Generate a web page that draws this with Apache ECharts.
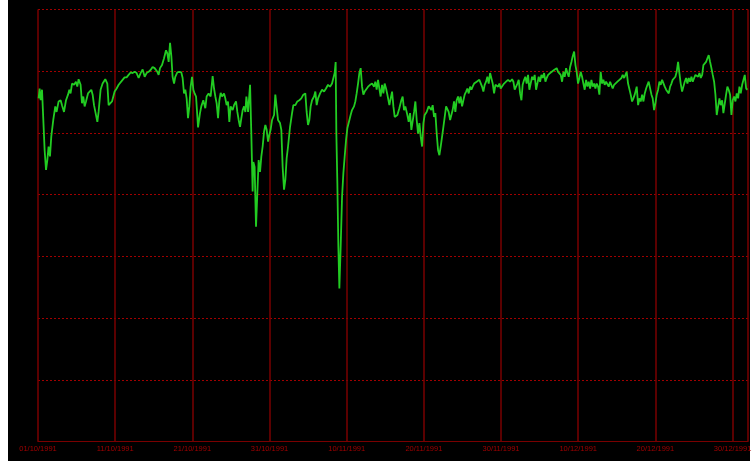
<!DOCTYPE html>
<html>
<head>
<meta charset="utf-8">
<script src="https://cdn.jsdelivr.net/npm/echarts@6/dist/echarts.min.js"></script>
<style>
  html, body { margin: 0; padding: 0; background: #fff; }
  #chart-bg {
    position: absolute;
    left: 8px;
    top: 0;
    width: 742px;
    height: 461px;
    background: #000;
  }
  #chart-line-day {
    position: absolute;
    left: 8px;
    top: 0;
    width: 745px;
    height: 461px;
  }
</style>
</head>
<body>
<div id="chart-bg"></div>
<div id="chart-line-day"></div>
<script>
// days since 01/10/1991
const days = [
  0.08, 0.21, 0.34, 0.52, 0.69, 0.86, 1.04, 1.21, 1.37, 1.55, 1.72, 1.98, 2.24, 2.41, 2.67, 2.93,
  3.11, 3.37, 3.63, 3.89, 4.06, 4.22, 4.41, 4.67, 4.92, 5.09, 5.26, 5.52, 5.70, 5.87, 6.04, 6.22,
  6.48, 6.65, 6.91, 7.08, 7.26, 7.43, 7.69, 7.85, 8.11, 8.37, 8.72, 8.98, 9.15, 9.33, 9.59, 9.76,
  9.93, 10.19, 10.45, 10.70, 10.96, 11.22, 11.48, 11.74, 12.00, 12.26, 12.52, 12.78, 13.04, 13.30,
  13.56, 13.82, 14.07, 14.33, 14.59, 14.85, 15.11, 15.46, 15.63, 15.81, 16.07, 16.33, 16.59, 16.76,
  16.93, 17.11, 17.28, 17.44, 17.63, 17.79, 18.05, 18.31, 18.57, 18.74, 18.92, 19.09, 19.26, 19.44,
  19.61, 19.78, 19.96, 20.13, 20.29, 20.48, 20.74, 20.99, 21.16, 21.42, 21.68, 21.85, 22.11, 22.37,
  22.63, 22.81, 22.98, 23.15, 23.33, 23.50, 23.67, 23.85, 24.11, 24.27, 24.44, 24.62, 24.79, 24.96,
  25.22, 25.40, 25.66, 25.83, 26.00, 26.18, 26.35, 26.52, 26.70, 26.87, 27.00, 27.22, 27.48, 27.64,
  27.73, 27.81, 27.90, 28.07, 28.25, 28.42, 28.59, 28.77, 28.94, 29.11, 29.29, 29.46, 29.63, 29.81,
  29.98, 30.14, 30.33, 30.59, 30.75, 30.92, 31.10, 31.36, 31.53, 31.70, 31.88, 32.05, 32.22, 32.40,
  32.66, 32.92, 33.09, 33.35, 33.60, 33.86, 34.12, 34.38, 34.64, 34.81, 34.99, 35.16, 35.33, 35.51,
  35.77, 35.94, 36.11, 36.29, 36.55, 36.81, 37.07, 37.32, 37.58, 37.84, 38.10, 38.27, 38.44, 38.57,
  38.66, 38.79, 38.92, 39.05, 39.22, 39.40, 39.57, 39.74, 39.92, 40.09, 40.35, 40.51, 40.69, 40.95,
  41.12, 41.29, 41.47, 41.64, 41.81, 41.99, 42.16, 42.33, 42.51, 42.77, 43.03, 43.29, 43.55, 43.71,
  43.88, 44.06, 44.23, 44.40, 44.58, 44.75, 44.92, 45.10, 45.27, 45.53, 45.70, 45.88, 46.05, 46.22,
  46.57, 46.82, 47.08, 47.25, 47.43, 47.60, 47.86, 48.03, 48.21, 48.38, 48.55, 48.73, 48.90, 49.07,
  49.25, 49.42, 49.59, 49.77, 49.94, 50.10, 50.36, 50.62, 50.80, 50.97, 51.14, 51.32, 51.49, 51.66,
  51.84, 52.01, 52.18, 52.36, 52.53, 52.70, 52.88, 53.05, 53.21, 53.40, 53.56, 53.73, 53.91, 54.08,
  54.25, 54.43, 54.60, 54.77, 54.95, 55.12, 55.29, 55.47, 55.64, 55.81, 55.99, 56.16, 56.32, 56.51,
  56.67, 56.84, 57.02, 57.19, 57.36, 57.54, 57.71, 57.88, 58.06, 58.23, 58.40, 58.58, 58.75, 58.92,
  59.10, 59.27, 59.43, 59.62, 59.79, 59.95, 60.13, 60.39, 60.65, 60.91, 61.17, 61.43, 61.60, 61.77,
  62.12, 62.29, 62.47, 62.64, 62.80, 62.99, 63.15, 63.32, 63.50, 63.67, 63.84, 64.02, 64.19, 64.36,
  64.54, 64.71, 64.88, 65.06, 65.23, 65.40, 65.58, 65.75, 65.91, 66.10, 66.36, 66.61, 66.87, 67.04,
  67.21, 67.39, 67.56, 67.73, 67.91, 68.08, 68.25, 68.43, 68.60, 68.77, 68.95, 69.12, 69.28, 69.47,
  69.64, 69.80, 69.98, 70.15, 70.32, 70.50, 70.67, 70.84, 71.02, 71.19, 71.36, 71.54, 71.71, 71.88,
  72.06, 72.23, 72.39, 72.58, 72.74, 72.91, 73.09, 73.26, 73.43, 73.61, 73.78, 73.95, 74.13, 74.30,
  74.47, 74.65, 74.82, 75.08, 75.34, 75.60, 75.76, 75.95, 76.12, 76.28, 76.46, 76.63, 76.80, 76.98,
  77.15, 77.32, 77.58, 77.76, 77.93, 78.10, 78.28, 78.45, 78.62, 78.80, 78.97, 79.13, 79.32, 79.49,
  79.65, 79.83, 80.00, 80.17, 80.35, 80.52, 80.69, 80.87, 81.04, 81.21, 81.39, 81.56, 81.73, 81.91,
  82.08, 82.24, 82.43, 82.59, 82.76, 82.94, 83.11, 83.28, 83.46, 83.63, 83.80, 83.98, 84.15, 84.32,
  84.50, 84.67, 84.84, 85.02, 85.19, 85.36, 85.54, 85.71, 85.88, 86.06, 86.22, 86.39, 86.57, 86.74,
  86.91, 87.09, 87.26, 87.43, 87.61, 87.78, 87.95, 88.13, 88.30, 88.46, 88.65, 88.81, 88.98, 89.16,
  89.33, 89.50, 89.68, 89.85, 90.02, 90.20, 90.37, 90.54, 90.72, 90.89, 91.06, 91.24, 91.41, 91.58,
  91.76, 91.93
];

const level = [
  55.6, 57.2, 55.3, 57.0, 57.3, 47.2, 44.0, 45.6, 47.8, 46.2, 49.4, 52.1, 54.3, 53.4, 55.1, 55.3,
  54.5, 53.4, 55.3, 56.2, 57.0, 56.4, 58.0, 57.8, 58.3, 57.5, 58.7, 57.8, 54.8, 55.9, 54.3, 55.1,
  56.4, 56.2, 57.0, 56.2, 54.5, 54.3, 51.8, 53.4, 57.0, 58.0, 58.7, 58.0, 54.5, 54.3, 55.1, 55.9,
  56.7, 57.2, 57.8, 58.0, 58.6, 59.0, 59.0, 59.4, 59.8, 59.7, 59.9, 59.7, 58.9, 59.7,
  60.3, 59.1, 59.7, 59.9, 60.2, 60.7, 60.5, 59.9, 59.4, 60.5, 61.0, 62.1, 63.4, 62.9,
  61.5, 64.6, 62.4, 59.1, 58.0, 59.1, 59.8, 59.9, 59.8, 58.9, 56.4, 57.0, 55.6, 52.4,
  54.3, 57.5, 59.1, 57.0, 56.4, 55.9, 50.9, 53.2, 54.3, 55.3, 54.0, 55.9, 56.4, 55.9,
  59.2, 57.2, 55.9, 54.8, 52.4, 55.3, 56.5, 55.9, 56.4, 55.6, 54.5, 55.1, 51.8, 54.3,
  53.7, 54.5, 55.1, 53.4, 52.1, 51.0, 52.4, 53.7, 54.3, 53.4, 55.9, 53.4, 57.8, 49.9,
  45.1, 40.5, 45.3, 44.5, 34.8, 40.2, 45.6, 43.7, 46.2, 47.8, 50.2, 51.3, 50.5, 48.6,
  49.7, 50.5, 52.1, 52.9, 56.2, 56.4, 52.1, 51.6, 50.5, 44.5, 40.8, 42.4, 45.9, 47.8,
  51.0, 53.2, 54.5, 54.5, 55.1, 55.3, 55.6, 56.2, 56.4, 53.4, 51.3, 52.1, 54.3, 55.3,
  55.9, 56.7, 54.5, 55.6, 56.4, 57.0, 56.7, 57.2, 57.8, 57.5, 58.0, 57.8, 59.7, 61.5,
  49.9, 41.8, 31.6, 24.8, 31.6, 39.7, 43.5, 46.2, 48.9, 50.8, 52.1, 52.9, 53.7, 54.3,
  55.1, 56.4, 58.0, 59.7, 60.5, 57.5, 56.2, 56.7, 57.0, 57.5, 57.8, 58.0, 57.5, 58.3,
  57.0, 58.6, 57.2, 55.9, 57.8, 56.4, 58.0, 57.2, 56.2, 54.5, 55.6, 56.7, 54.3, 52.6,
  52.9, 54.0, 55.3, 55.9, 53.7, 54.3, 52.9, 51.8, 53.2, 50.5, 50.8, 53.4, 55.1, 52.1,
  49.9, 51.6, 49.4, 47.8, 51.6, 52.9, 53.4, 54.3, 54.5, 53.7, 54.5, 52.6, 53.2, 49.9,
  47.2, 46.4, 47.8, 49.4, 51.0, 52.6, 54.3, 54.5, 53.4, 52.1, 52.9, 53.7, 55.1, 53.4,
  55.3, 55.9, 54.8, 55.9, 54.3, 55.3, 56.2, 56.7, 57.2, 56.4, 57.5, 57.0, 57.5, 58.0,
  57.8, 58.3, 58.0, 58.6, 58.3, 57.5, 56.7, 57.8, 58.3, 59.1, 58.0, 59.7, 59.8, 58.0,
  56.4, 57.8, 58.0, 57.5, 58.0, 57.2, 57.0, 58.0, 58.3, 58.6, 58.3, 58.7, 58.3, 57.0,
  58.0, 58.6, 56.4, 55.3, 57.8, 58.6, 59.1, 58.0, 59.4, 57.0, 58.0, 59.1, 58.6, 59.4,
  57.0, 58.0, 59.1, 58.3, 59.4, 58.9, 59.7, 58.3, 58.9, 59.4, 59.7, 59.9, 60.2, 59.9,
  60.5, 59.9, 60.2, 59.4, 58.3, 59.9, 59.1, 60.5, 59.7, 59.1, 60.7, 61.5, 62.4, 63.2,
  61.0, 59.9, 58.0, 58.9, 59.9, 59.1, 58.0, 57.0, 58.6, 57.5, 58.3, 57.2, 58.6, 57.5,
  58.0, 57.2, 58.0, 57.5, 56.2, 59.9, 58.0, 58.6, 57.8, 58.3, 58.0, 57.5, 58.3, 58.0,
  57.2, 57.8, 58.0, 58.3, 58.6, 58.9, 59.4, 58.9, 59.1, 59.9, 58.0, 57.8, 56.2, 55.1,
  55.6, 56.2, 57.5, 54.5, 55.6, 55.1, 56.2, 55.1, 56.4, 57.2, 57.8, 58.3, 58.0, 56.2,
  55.6, 53.7, 54.8, 56.2, 57.0, 58.3, 57.8, 58.6, 58.9, 57.5, 57.0, 57.2, 56.4, 57.5,
  58.0, 58.6, 58.3, 59.1, 59.9, 61.5, 59.7, 58.0, 56.7, 57.5, 58.3, 58.9, 58.0, 58.9,
  58.3, 59.1, 58.3, 58.9, 59.4, 59.7, 59.1, 59.7, 58.9, 59.4, 61.0, 61.3, 61.5, 62.1,
  62.6, 61.5, 60.5, 59.4, 58.3, 56.2, 52.9, 54.3, 55.6, 54.5, 55.3, 53.2, 52.9, 56.2,
  57.5, 57.0, 56.2, 52.9, 55.3, 55.9, 55.1, 56.4, 55.6, 57.5, 56.4, 57.8, 58.0, 59.4,
  57.2, 57.0
];

const dateStart = Date.UTC(1991, 9, 1);
const dayTicks = 10;
const dayMax = 92;
const levelMax = 70;
const levelStep = 10;

function dayLabel(d) {
  const t = new Date(dateStart + d * 86400000);
  const dd = String(t.getUTCDate()).padStart(2, '0');
  const mm = String(t.getUTCMonth() + 1).padStart(2, '0');
  return dd + '/' + mm + '/' + t.getUTCFullYear();
}

let myChart = echarts.init(document.getElementById('chart-line-day'));
const option = {
  backgroundColor: 'transparent',
  animation: false,
  grid: {
    left: 30,
    right: 5,
    top: 9.5,
    bottom: 19.5,
    outerBoundsMode: 'none'
  },
  xAxis: {
    type: 'value',
    min: 0,
    max: dayMax,
    interval: dayTicks,
    axisLine: { show: true, lineStyle: { color: '#7a0000', width: 1 } },
    axisTick: { show: false },
    axisLabel: {
      color: '#a00000',
      fontSize: 7.5,
      fontFamily: 'Liberation Sans',
      margin: 3,
      showMaxLabel: false,
      formatter: function (v) { return dayLabel(v); }
    },
    splitLine: {
      show: true,
      lineStyle: { color: '#7a0000', width: 1.5, type: 'solid' }
    }
  },
  yAxis: {
    type: 'value',
    min: 0,
    max: levelMax,
    interval: levelStep,
    axisLine: { show: false },
    axisTick: { show: false },
    axisLabel: { show: false },
    splitLine: {
      show: true,
      lineStyle: { color: '#a00000', width: 1, type: [2, 2] }
    }
  },
  series: [
    {
      type: 'line',
      data: days.map((d, i) => [d, level[i]]),
      showSymbol: false,
      smooth: false,
      lineStyle: { color: '#22cc22', width: 1.8 }
    }
  ]
};
myChart.setOption(option);
</script>
</body>
</html>
